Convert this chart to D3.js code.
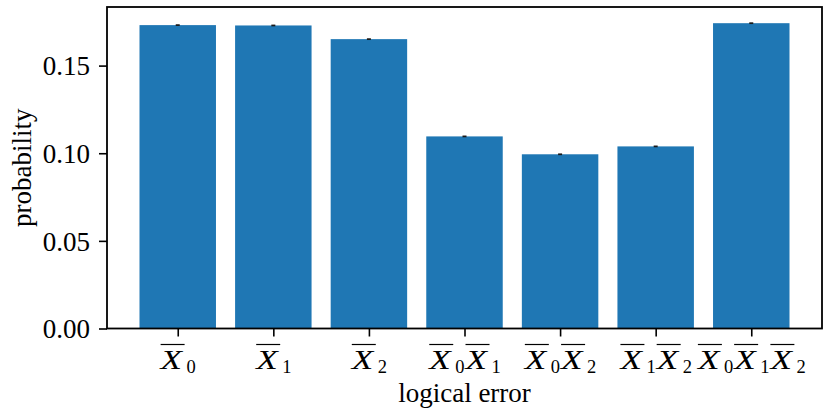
<!DOCTYPE html>
<html>
<head>
<meta charset="utf-8">
<script src="https://cdn.jsdelivr.net/npm/d3@7"></script>
<style>
  html, body { margin: 0; padding: 0; background: #fff; }
  svg { display: block; }
  text { font-family: "Liberation Serif", "DejaVu Serif", serif; fill: #000; }
</style>
</head>
<body>
<svg id="chart" width="830" height="415"></svg>
<script>
// ---- data ----
const categories = ["X0", "X1", "X2", "X0X1", "X0X2", "X1X2", "X0X1X2"];
const probabilities = [0.1731, 0.1729, 0.1651, 0.1096, 0.0994, 0.1039, 0.1742];
const errors = [0.0005, 0.0005, 0.0005, 0.0005, 0.0005, 0.0005, 0.0005];
const yTicks = [0.00, 0.05, 0.10, 0.15];
const yLabel = "probability";
const xLabel = "logical error";

// ---- layout ----
const plotLeft = 107, plotRight = 822, plotTop = 7, plotBottom = 328.5;
const barWidth = 0.8;
const n = categories.length;
const xPad = 0.05 * (n - 1 + barWidth);

const svg = d3.select("#chart");

const x = d3.scaleLinear()
  .domain([-barWidth / 2 - xPad, n - 1 + barWidth / 2 + xPad])
  .range([plotLeft, plotRight]);
const yMax = d3.max(probabilities.map((p, i) => p + errors[i])) * 1.05;
const y = d3.scaleLinear().domain([0, yMax]).range([plotBottom, plotTop]);

// bars
svg.append("g").selectAll("rect")
  .data(probabilities)
  .join("rect")
  .attr("x", (d, i) => x(i - barWidth / 2))
  .attr("width", (d, i) => x(i + barWidth / 2) - x(i - barWidth / 2))
  .attr("y", d => y(d))
  .attr("height", d => y(0) - y(d))
  .attr("fill", "#1f77b4");

// error bars
svg.append("g").selectAll("rect")
  .data(probabilities)
  .join("rect")
  .attr("x", (d, i) => x(i) - 2)
  .attr("width", 4)
  .attr("y", (d, i) => y(d + errors[i]))
  .attr("height", (d, i) => Math.max(1.6, y(d - errors[i]) - y(d + errors[i])))
  .attr("fill", "#1a1a1a");

// y axis
const yAxis = d3.axisLeft(y)
  .tickValues(yTicks)
  .tickFormat(d3.format(".2f"))
  .tickSize(8)
  .tickPadding(9);
const gy = svg.append("g").attr("transform", `translate(${plotLeft},0)`).call(yAxis);
gy.select(".domain").remove();
gy.selectAll(".tick line").attr("stroke", "#000").attr("stroke-width", 1.6);
gy.selectAll(".tick text")
  .attr("font-family", "'Liberation Serif', serif")
  .attr("font-size", 27)
  .attr("dy", "0.34em");

// x axis ticks
const xAxis = d3.axisBottom(x)
  .tickValues(d3.range(n))
  .tickFormat("")
  .tickSize(8);
const gx = svg.append("g").attr("transform", `translate(0,${plotBottom})`).call(xAxis);
gx.select(".domain").remove();
gx.selectAll(".tick line").attr("stroke", "#000").attr("stroke-width", 1.6);

// x tick labels: overlined italic X with numeric subscript
const labelBaseline = plotBottom + 40;
categories.forEach((cat, i) => {
  const g = svg.append("g");
  const terms = [...cat.matchAll(/X(\d)/g)].map(m => m[1]);
  let cursor = 0;
  terms.forEach(sub => {
    const xw = 24.5;
    g.append("text")
      .attr("x", cursor + 1)
      .attr("y", 0)
      .attr("font-size", 27)
      .attr("font-style", "italic")
      .attr("textLength", 21.5)
      .attr("lengthAdjust", "spacingAndGlyphs")
      .text("X");
    g.append("line")
      .attr("x1", cursor + 1)
      .attr("x2", cursor + xw + 0.5)
      .attr("y1", -24)
      .attr("y2", -24)
      .attr("stroke", "#000")
      .attr("stroke-width", 1.2);
    const st = g.append("text")
      .attr("x", cursor + xw + 2.5)
      .attr("y", 4)
      .attr("font-size", 18.5)
      .text(sub);
    const sw = st.node().getComputedTextLength();
    cursor += xw + 2.5 + sw;
  });
  g.attr("transform", `translate(${x(i) - cursor / 2},${labelBaseline})`);
});

// frame
svg.append("rect")
  .attr("x", plotLeft).attr("y", plotTop)
  .attr("width", plotRight - plotLeft).attr("height", plotBottom - plotTop)
  .attr("fill", "none")
  .attr("stroke", "#000")
  .attr("stroke-width", 1.8);

// axis labels
svg.append("text")
  .attr("x", (plotLeft + plotRight) / 2)
  .attr("y", 402)
  .attr("text-anchor", "middle")
  .attr("font-size", 27)
  .text(xLabel);

svg.append("text")
  .attr("transform", `translate(31,${(plotTop + plotBottom) / 2}) rotate(-90)`)
  .attr("text-anchor", "middle")
  .attr("font-size", 27)
  .text(yLabel);
</script>
</body>
</html>
